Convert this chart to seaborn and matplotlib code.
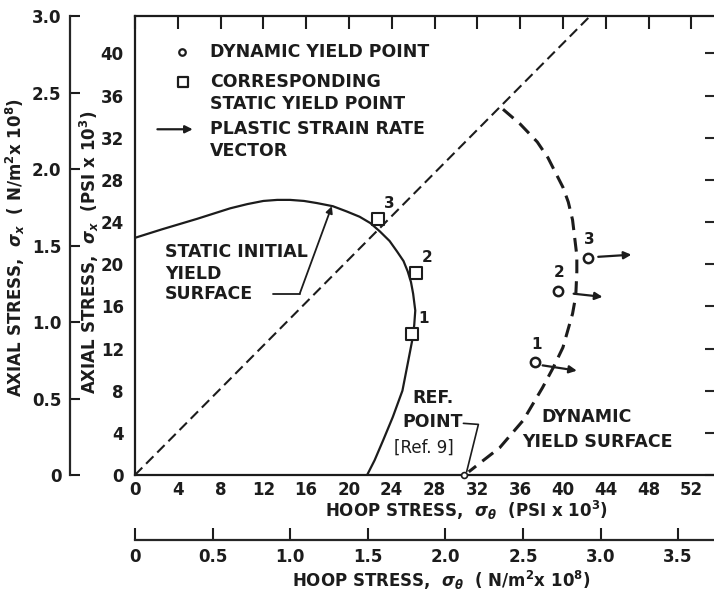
import numpy as np
import seaborn as sns
import matplotlib.pyplot as plt

# stresses in ksi (PSI x 10^3)
static_x = [0.0, 2.5, 5.8, 8.9, 10.5, 12.0, 13.3, 14.5, 15.8, 17.0, 18.5, 19.8,
            21.0, 22.0, 22.9, 23.8, 24.5, 25.1, 25.5, 25.8, 26.0, 26.2, 26.1,
            25.9, 25.5, 25.0, 24.1, 23.2, 22.4, 21.7]
static_y = [22.5, 23.3, 24.3, 25.3, 25.7, 26.0, 26.1, 26.1, 26.0, 25.8, 25.5,
            25.0, 24.5, 23.9, 23.1, 22.2, 21.2, 20.3, 19.3, 18.3, 17.2, 15.6,
            14.2, 12.7, 10.6, 8.0, 5.5, 3.3, 1.4, 0.0]

dyn_surf_x = [34.4, 36.0, 37.6, 38.6, 39.4, 40.0, 40.5, 40.9, 41.1, 41.3, 41.3,
              41.2, 40.9, 40.0, 39.1, 38.1, 36.3, 34.1, 32.2, 31.2]
dyn_surf_y = [34.7, 33.3, 31.6, 30.1, 28.5, 27.3, 25.9, 24.2, 22.5, 20.8, 19.3,
              17.0, 15.3, 12.1, 10.2, 8.3, 5.2, 2.6, 1.1, 0.3]

# radial loading path
path_x = [0.0, 42.5]
path_y = [0.0, 43.5]

point_labels = ["1", "2", "3"]
static_pt_x = [25.9, 26.3, 22.7]
static_pt_y = [13.4, 19.2, 24.3]
dyn_pt_x = [37.4, 39.5, 42.3]
dyn_pt_y = [10.7, 17.5, 20.6]

# plastic strain rate vectors: tail -> head
vec_x0 = [38.1, 41.0, 43.3]
vec_y0 = [10.4, 17.2, 20.7]
vec_x1 = [41.3, 43.7, 46.4]
vec_y1 = [9.9, 16.9, 20.9]

ref_pt_x = [30.8]
ref_pt_y = [0.0]

psi_xticks = np.arange(0, 53, 4)
psi_yticks = np.arange(0, 41, 4)
si_xticks = np.arange(0, 3.6, 0.5)
si_xlabels = ["0", "0.5", "1.0", "1.5", "2.0", "2.5", "3.0", "3.5"]
si_yticks = np.arange(0, 3.1, 0.5)
si_ylabels = ["0", "0.5", "1.0", "1.5", "2.0", "2.5", "3.0"]
KSI_PER_SI = 14.504  # 1e8 N/m^2 in ksi

ink = "#1c1c1c"
sns.set_style("white")
plt.rcParams["font.family"] = ["DejaVu Sans"]
plt.rcParams["font.weight"] = "bold"
plt.rcParams["axes.labelweight"] = "bold"
plt.rcParams["mathtext.default"] = "it"
fs = 12
tfs = 12.5

fig = plt.figure(figsize=(7.14, 5.98), dpi=100)
ax = fig.add_axes([0.189, 0.2057, 0.8137, 0.7676])
ax.set_xlim(0, 54.3)
ax.set_ylim(0, 43.55)

# curves
sns.lineplot(x=path_x, y=path_y, ax=ax, color=ink, lw=1.5, sort=False,
             estimator=None, linestyle=(0, (5, 2.6)))
sns.lineplot(x=static_x, y=static_y, ax=ax, color=ink, lw=1.6, sort=False,
             estimator=None)
sns.lineplot(x=dyn_surf_x, y=dyn_surf_y, ax=ax, color=ink, lw=2.2, sort=False,
             estimator=None, linestyle=(0, (4.5, 2.6)))

# yield points
sns.scatterplot(x=static_pt_x, y=static_pt_y, ax=ax, marker="s", s=70,
                facecolor="white", edgecolor=ink, linewidth=1.5, zorder=5)
sns.scatterplot(x=dyn_pt_x, y=dyn_pt_y, ax=ax, marker="o", s=45,
                facecolor="white", edgecolor=ink, linewidth=1.8, zorder=5)
sns.scatterplot(x=ref_pt_x, y=ref_pt_y, ax=ax, marker="o", s=18,
                facecolor="white", edgecolor=ink, linewidth=1.2, zorder=5,
                clip_on=False)

for i, lab in enumerate(point_labels):
    ax.annotate(lab, (static_pt_x[i], static_pt_y[i]), xytext=(8, 11),
                textcoords="offset points", ha="center", va="center",
                fontsize=11, color=ink)
    ax.annotate(lab, (dyn_pt_x[i], dyn_pt_y[i]), xytext=(1, 13),
                textcoords="offset points", ha="center", va="center",
                fontsize=11, color=ink)
    ax.annotate("", xy=(vec_x1[i], vec_y1[i]), xytext=(vec_x0[i], vec_y0[i]),
                arrowprops=dict(arrowstyle="-|>", color=ink, lw=1.6,
                                mutation_scale=11, shrinkA=0, shrinkB=0))

# legend (drawn as in the original, inside the plot)
ax.scatter([4.4], [40.1], marker="o", s=22, facecolor="white", edgecolor=ink,
           linewidth=1.6)
ax.scatter([4.5], [37.3], marker="s", s=45, facecolor="white", edgecolor=ink,
           linewidth=1.6)
ax.annotate("", xy=(5.4, 32.8), xytext=(2.1, 32.8),
            arrowprops=dict(arrowstyle="-|>", color=ink, lw=1.6,
                            mutation_scale=11, shrinkA=0, shrinkB=0))
legend_lines = [("DYNAMIC YIELD POINT", 40.1), ("CORRESPONDING", 37.3),
                ("STATIC YIELD POINT", 35.2), ("PLASTIC STRAIN RATE", 32.8),
                ("VECTOR", 30.7)]
for txt, yy in legend_lines:
    ax.text(7.0, yy, txt, fontsize=tfs, color=ink, va="center", ha="left")

# surface labels
for txt, yy in [("STATIC INITIAL", 21.2), ("YIELD", 19.1), ("SURFACE", 17.2)]:
    ax.text(2.8, yy, txt, fontsize=tfs, color=ink, va="center", ha="left")
ax.plot([12.9, 15.4], [17.2, 17.2], color=ink, lw=1.3)
ax.annotate("", xy=(18.4, 25.5), xytext=(15.4, 17.2),
            arrowprops=dict(arrowstyle="-|>", color=ink, lw=1.3,
                            mutation_scale=10, shrinkA=0, shrinkB=0))

ax.text(38.0, 5.5, "DYNAMIC", fontsize=tfs, color=ink, va="center", ha="left")
ax.text(36.2, 3.1, "YIELD SURFACE", fontsize=tfs, color=ink, va="center",
        ha="left")

ax.text(27.9, 7.3, "REF.", fontsize=tfs, color=ink, va="center", ha="center")
ax.text(27.8, 5.0, "POINT", fontsize=tfs, color=ink, va="center", ha="center")
ax.text(27.0, 2.6, "[Ref. 9]", fontsize=fs, color=ink, va="center", ha="center",
        fontweight="normal")
ax.plot([30.7, 32.1, 31.0], [4.9, 4.8, 0.3], color=ink, lw=1.2)

# main axes
for sp in ax.spines.values():
    sp.set_linewidth(1.6)
    sp.set_color(ink)
ax.set_xticks(psi_xticks)
ax.set_yticks(psi_yticks)
ax.tick_params(axis="x", direction="in", length=9, width=1.5, top=True,
               pad=4, labelsize=fs, colors=ink)
ax.tick_params(axis="y", direction="out", length=6, width=1.5, pad=2,
               labelsize=fs, colors=ink)
ax.set_xlabel(r"HOOP STRESS,  $\sigma_\theta$  (PSI x 10$^3$)", fontsize=fs,
              color=ink)
ax.xaxis.set_label_coords(0.57, -0.052)
ax.set_ylabel(r"AXIAL STRESS,  $\sigma_x$  (PSI x 10$^3$)", fontsize=fs,
              color=ink)
ax.yaxis.set_label_coords(-0.058, 0.486)

right = ax.secondary_yaxis("right")
right.set_yticks(psi_yticks)
right.tick_params(direction="in", length=8, width=1.5, labelright=False)
right.spines["right"].set_linewidth(1.6)

# SI scales
to_si = lambda v: v / KSI_PER_SI
to_ksi = lambda v: v * KSI_PER_SI

sy = ax.secondary_yaxis(-0.112, functions=(to_si, to_ksi))
sy.set_yticks(si_yticks)
sy.set_yticklabels(si_ylabels)
sy.tick_params(direction="in", length=7, width=1.5, pad=6, labelsize=fs,
               colors=ink)
sy.spines["left"].set_linewidth(1.6)
sy.set_ylabel(r"AXIAL STRESS,  $\sigma_x$  ( N/m$^2$x 10$^8$)", fontsize=fs,
              color=ink)
sy.yaxis.set_label_coords(-0.186, 0.495, transform=ax.transAxes)

sx = ax.secondary_xaxis(-0.1416, functions=(to_si, to_ksi))
sx.set_xticks(si_xticks)
sx.set_xticklabels(si_xlabels)
sx.tick_params(direction="in", length=9, width=1.5, pad=6, labelsize=fs,
               colors=ink)
sx.spines["bottom"].set_linewidth(1.6)
sx.set_xlabel(r"HOOP STRESS,  $\sigma_\theta$  ( N/m$^2$x 10$^8$)", fontsize=fs,
              color=ink)
sx.xaxis.set_label_coords(0.527, -0.205, transform=ax.transAxes)

fig.savefig("out.png", dpi=100, facecolor="white")
